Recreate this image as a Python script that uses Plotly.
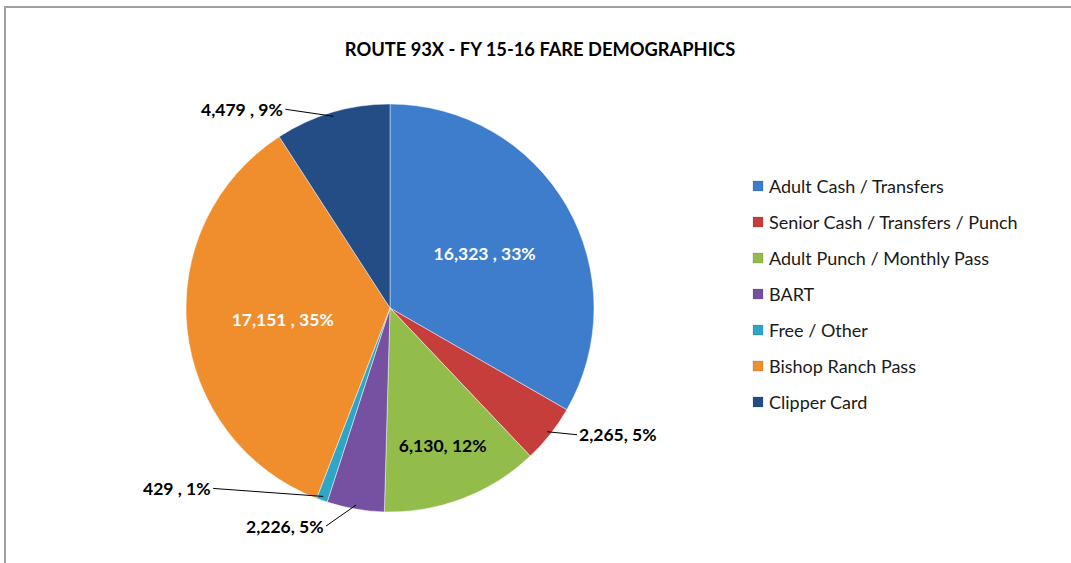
import math
import plotly.graph_objects as go

W, H = 1071, 563

categories = ["Adult Cash / Transfers", "Senior Cash / Transfers / Punch",
              "Adult Punch / Monthly Pass", "BART", "Free / Other",
              "Bishop Ranch Pass", "Clipper Card"]
values = [16323, 2265, 6130, 2226, 429, 17151, 4479]
label_texts = ["16,323 , 33%", "2,265, 5%", "6,130, 12%", "2,226, 5%",
               "429 , 1%", "17,151 , 35%", "4,479 , 9%"]
colors = ["#3D7DCB", "#C63E3B", "#93BD4B", "#7651A2", "#2FA6C8", "#F08E2E", "#234D84"]
inside = [True, False, True, False, False, True, False]
inside_font_colors = ["white", "black", "black", "black", "black", "white", "black"]

FONT = "Lato"

# pie geometry (pixels)
cx, cy, R = 390, 308, 204
dom_x = [(cx - R) / W, (cx + R) / W]
dom_y = [1 - (cy + R) / H, 1 - (cy - R) / H]

fig = go.Figure()
fig.add_trace(go.Pie(
    labels=categories, values=values, sort=False, direction="clockwise",
    rotation=0, domain=dict(x=dom_x, y=dom_y),
    marker=dict(colors=colors, line=dict(color="rgba(255,255,255,0.45)", width=1)),
    text=[t if i else "" for t, i in zip(label_texts, inside)],
    textinfo="text", textposition=["inside" if i else "none" for i in inside],
    insidetextorientation="horizontal",
    insidetextfont=dict(family=FONT, size=17.5, color=inside_font_colors, weight="bold"),
    showlegend=False, hoverinfo="label+value+percent",
))

# outside labels with leader lines, anchored at slice mid-angle on the rim
total = sum(values)
offsets = {1: (30, 3, "left"), 3: (-30, 21, "right"), 4: (-110, -8, "right"), 6: (-48, -7, "right")}
cum = 0
for i, v in enumerate(values):
    mid = cum + v / 2
    cum += v
    if inside[i]:
        continue
    ang = math.radians(90 - 360 * mid / total)
    px = cx + 0.98 * R * math.cos(ang)
    py = cy - 0.98 * R * math.sin(ang)
    ax, ay, xa = offsets[i]
    fig.add_annotation(x=px / W, y=1 - py / H, xref="paper", yref="paper",
                       text=label_texts[i], showarrow=True, arrowhead=0, arrowwidth=1,
                       arrowcolor="black", ax=ax, ay=ay, xanchor=xa, yanchor="middle",
                       standoff=0, font=dict(family=FONT, size=17.5, color="black", weight="bold"))

# custom legend
lx, ly0, dy = 753, 186, 36
for k, (name, c) in enumerate(zip(categories, colors)):
    y = ly0 + k * dy
    fig.add_shape(type="rect", xref="paper", yref="paper",
                  x0=lx / W, x1=(lx + 10) / W, y0=1 - (y + 5) / H, y1=1 - (y - 5) / H,
                  fillcolor=c, line=dict(color="rgba(0,0,0,0.25)", width=0.5))
    fig.add_annotation(x=(lx + 14) / W, y=1 - y / H, xref="paper", yref="paper",
                       text=name, showarrow=False, xanchor="left", yanchor="middle",
                       font=dict(family=FONT, size=18, color="#1a1a1a"))

# chart frame
fig.add_shape(type="rect", xref="paper", yref="paper", x0=5 / W, x1=1.02, y0=-0.02,
              y1=1 - 7 / H, line=dict(color="#A0A0A0", width=2), fillcolor="rgba(0,0,0,0)")

fig.update_layout(
    width=W, height=H, margin=dict(l=0, r=0, t=0, b=0),
    paper_bgcolor="white", plot_bgcolor="white",
    title=dict(text="<b>ROUTE 93X - FY 15-16 FARE DEMOGRAPHICS</b>", x=540 / W, xanchor="center",
               y=1 - 50 / H, yanchor="middle", font=dict(family=FONT, size=18.3, color="black")),
)

fig.write_html("out.html", config={"displayModeBar": False},
               post_script="document.body.style.margin='0px';document.body.style.overflow='hidden';")
